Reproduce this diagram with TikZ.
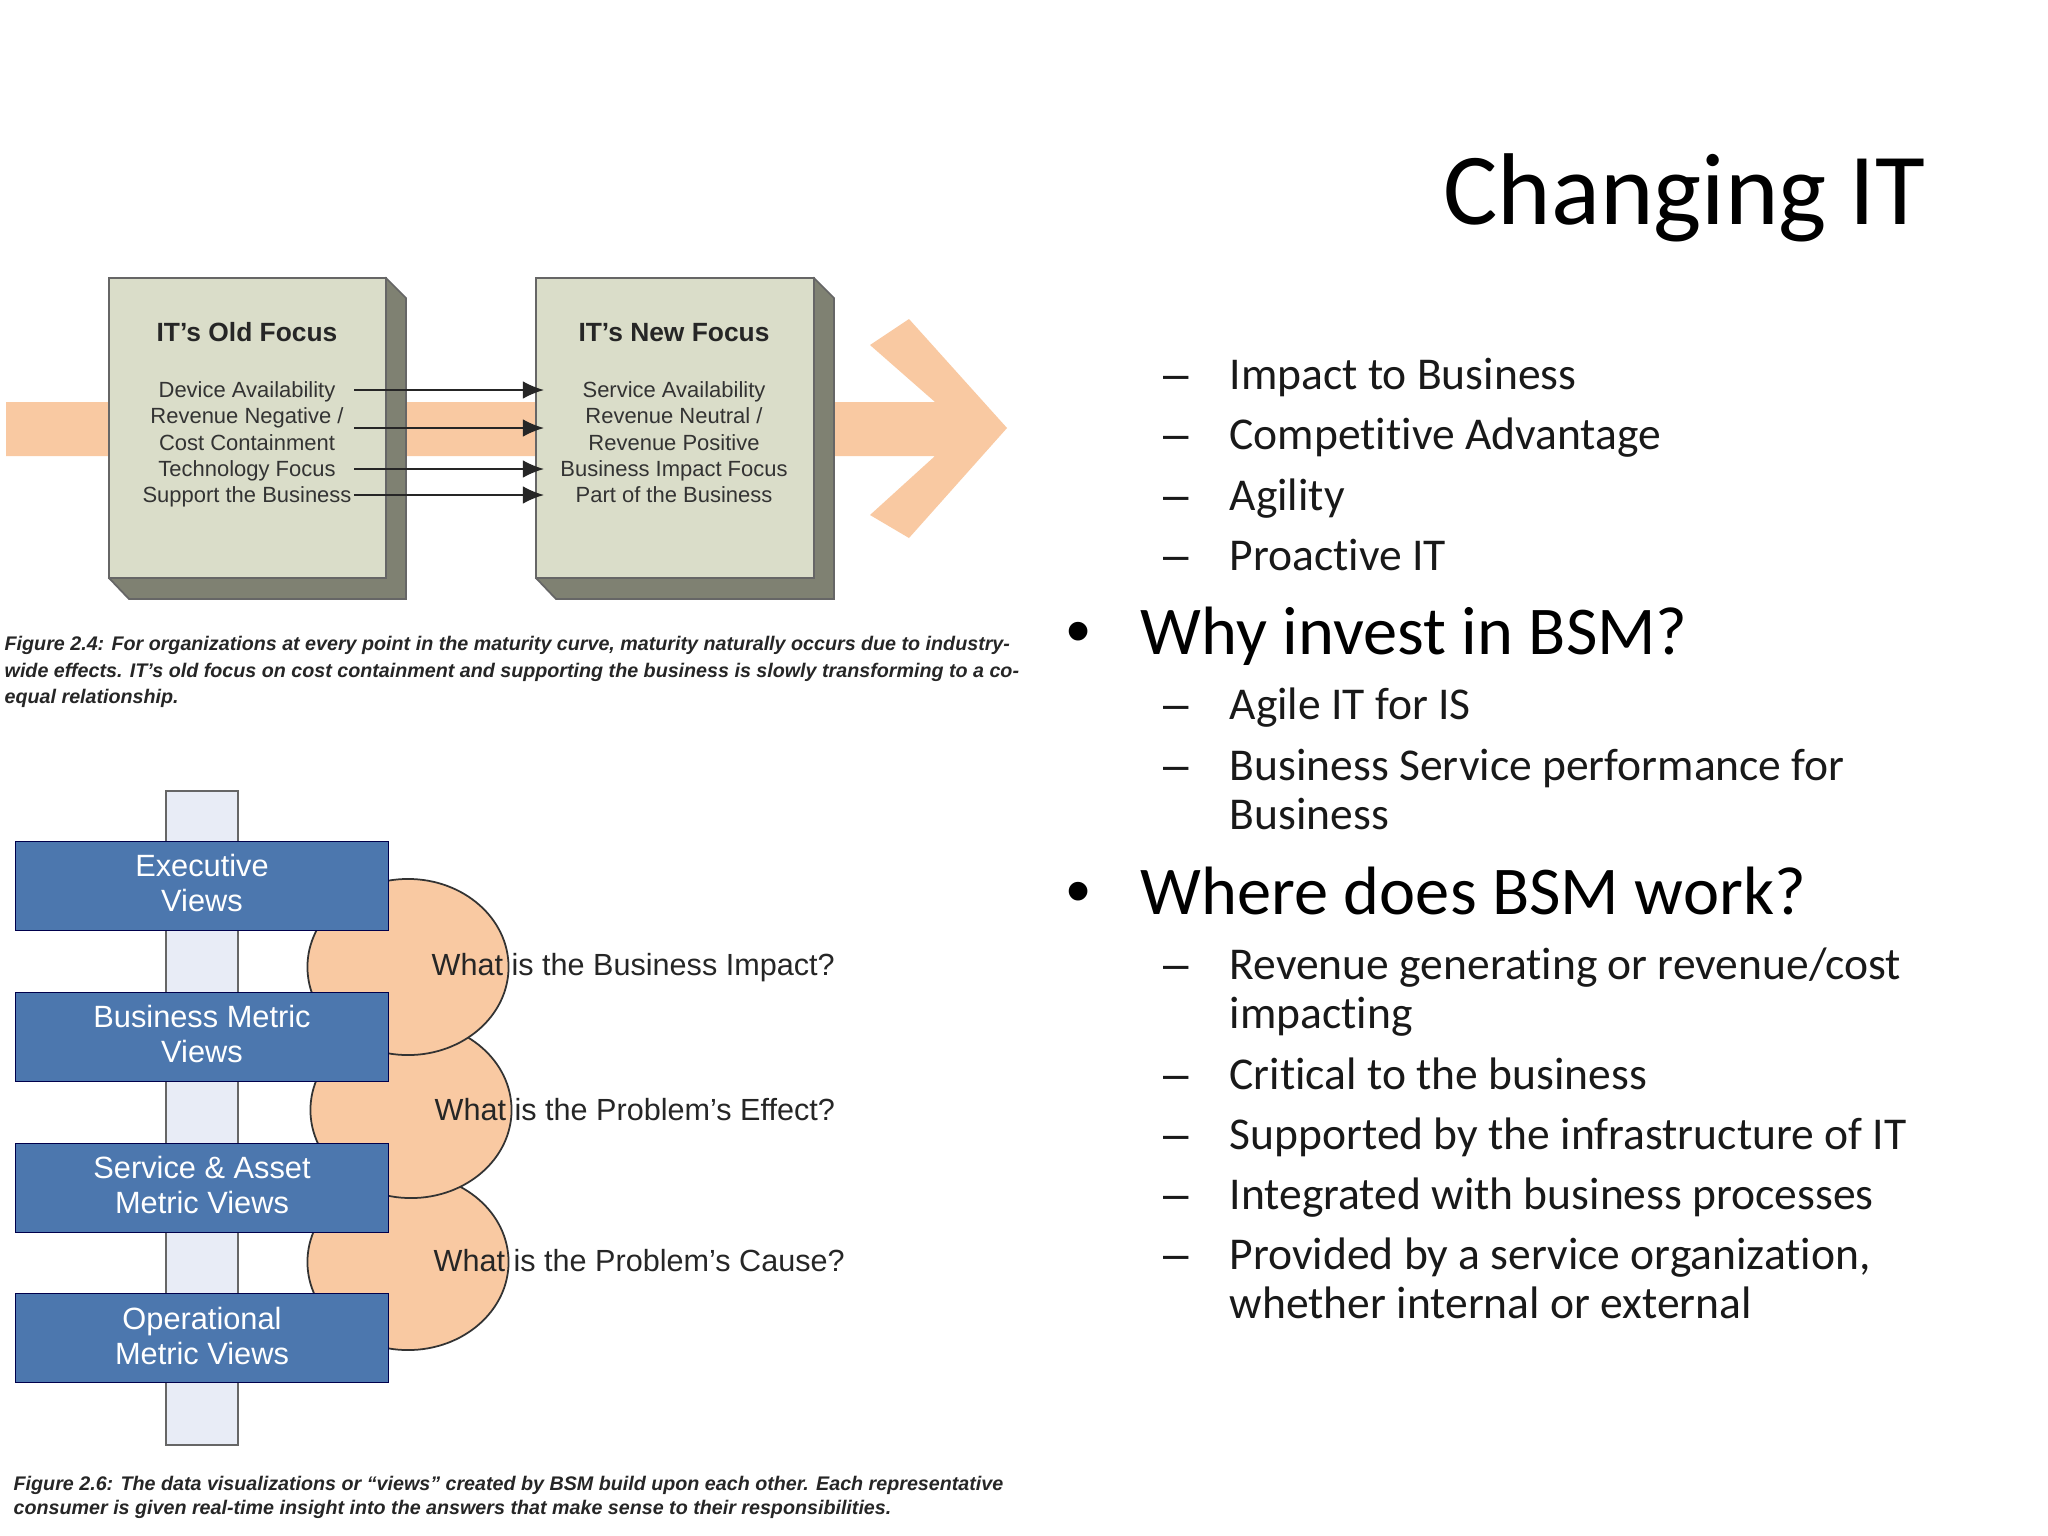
\documentclass[tikz,border=0pt]{standalone}
\usepackage{fontspec}
\setmainfont[Ligatures=CommonOff]{Carlito}
\newfontfamily\arialfont{Liberation Sans}
\usetikzlibrary{shapes.geometric,arrows.meta}
\definecolor{bandc}{HTML}{F9C9A2}
\definecolor{frontc}{HTML}{DADDC9}
\definecolor{sidec}{HTML}{7F8172}
\definecolor{viewc}{HTML}{4C77AE}
\definecolor{barc}{HTML}{E8ECF6}
\tikzset{
  focusbox/.style={draw=black!60,fill=frontc,line width=0.5pt},
  focusside/.style={draw=black!60,fill=sidec,line width=0.5pt},
  focustext/.style={font=\arialfont\fontsize{6.25}{7}\selectfont,text=black!80,inner sep=0pt,anchor=base},
  focushead/.style={font=\arialfont\bfseries\fontsize{7.5}{9}\selectfont,text=black!85,inner sep=0pt,anchor=base},
  figcap/.style={font=\arialfont\bfseries\itshape\fontsize{5.6}{7.5}\selectfont,text=black!85,inner sep=0pt,anchor=north west,align=left},
  viewbox/.style={draw=black!70!blue,fill=viewc,line width=0.5pt,minimum width=3.73cm,minimum height=0.89cm,inner sep=0pt},
  viewtext/.style={text=white,font=\arialfont\fontsize{8.75}{9.8}\selectfont,align=center,inner sep=0pt},
  askcirc/.style={ellipse,draw=black!80,fill=bandc,line width=0.5pt,minimum width=2.01cm,minimum height=1.76cm,inner sep=0pt},
  asktext/.style={font=\arialfont\fontsize{8.7}{10}\selectfont,text=black!85,inner sep=0pt,anchor=west},
  subitem/.style={font=\fontsize{12.95}{15}\selectfont,text=black!90,inner sep=0pt,anchor=base west},
  subdash/.style={font=\arialfont\fontsize{13}{15}\selectfont,text=black!90,inner sep=0pt,anchor=base west},
  topitem/.style={font=\fontsize{19.45}{22}\selectfont,text=black,inner sep=0pt,anchor=base west},
  topdot/.style={font=\arialfont\fontsize{19.6}{22}\selectfont,text=black,inner sep=0pt,anchor=base west}
}
\begin{document}
\begin{tikzpicture}[x=0.01cm,y=-0.01cm]
\useasboundingbox[fill=white] (0,0) rectangle (2048,1536);
% upper figure
\fill[bandc] (6,402) -- (935,402) -- (870,345) -- (909,319) -- (1007,428) -- (909,538) -- (870,515) -- (935,456) -- (6,456) -- cycle;
\draw[focusside] (386,278) -- (406,298) -- (406,599) -- (129,599) -- (109,578) -- cycle;
\draw[focusside] (814,278) -- (834,298) -- (834,599) -- (556,599) -- (536,578) -- cycle;
\draw[focusbox] (109,278) rectangle (386,578);
\draw[focusbox] (536,278) rectangle (814,578);
\node[focushead] (OldHead) at (247,341) {IT’s Old Focus};
\node[focushead] (NewHead) at (674,341) {IT’s New Focus};
\node[focustext] (Old1) at (247,397) {Device Availability};
\node[focustext] (Old2) at (247,423) {Revenue Negative /};
\node[focustext] (Old3) at (247,450) {Cost Containment};
\node[focustext] (Old4) at (247,476) {Technology Focus};
\node[focustext] (Old5) at (247,502) {Support the Business};
\node[focustext] (New1) at (674,397) {Service Availability};
\node[focustext] (New2) at (674,423) {Revenue Neutral /};
\node[focustext] (New3) at (674,450) {Revenue Positive};
\node[focustext] (New4) at (674,476) {Business Impact Focus};
\node[focustext] (New5) at (674,502) {Part of the Business};
\foreach \i/\ypos in {1/390,2/428,3/469,4/495} {
  \coordinate (From\i) at (354,\ypos);
  \coordinate (To\i) at (544,\ypos);
  \draw[-{Latex[length=6pt,width=5pt]},line width=0.5pt,black!85] (From\i) -- (To\i);
}
\node[figcap] (CapTop) at (4,636) {Figure 2.4: For organizations at every point in the maturity curve, maturity naturally occurs due to industry-\\wide effects. IT’s old focus on cost containment and supporting the business is slowly transforming to a co-\\equal relationship.};
% lower figure
\draw[draw=black!60,fill=barc,line width=0.5pt] (166,791) rectangle (238,1445);
\node[askcirc] (Ask3) at (408,1262) {};
\node[askcirc] (Ask2) at (411,1110) {};
\node[askcirc] (Ask1) at (408,967) {};
\node[viewbox] (Exec) at (202,886) {};
\node[viewbox] (Bus) at (202,1037) {};
\node[viewbox] (Serv) at (202,1188) {};
\node[viewbox] (Oper) at (202,1338) {};
\node[viewtext] (ExecText) at (202,883) {Executive\\Views};
\node[viewtext] (BusText) at (202,1034) {Business Metric\\Views};
\node[viewtext] (ServText) at (202,1185) {Service \& Asset\\Metric Views};
\node[viewtext] (OperText) at (202,1336) {Operational\\Metric Views};
\node[asktext] (Q1) at (431,968) {What is the Business Impact?};
\node[asktext] (Q2) at (434,1110) {What is the Problem’s Effect?};
\node[asktext] (Q3) at (433,1261) {What is the Problem’s Cause?};
\node[figcap,font=\arialfont\bfseries\itshape\fontsize{5.6}{6.7}\selectfont] (CapLow) at (13,1476) {Figure 2.6: The data visualizations or “views” created by BSM build upon each other. Each representative\\consumer is given real-time insight into the answers that make sense to their responsibilities.};
% slide text
\node[font=\fontsize{29}{32}\selectfont,inner sep=0pt,anchor=base east] (Title) at (1926,224) {Changing IT};
\foreach \n/\ypos/\txt in {a/389/Impact to Business,b/449/Competitive Advantage,c/510/Agility,d/570/Proactive IT,e/719/Agile IT for IS,f/780/Business Service performance for,h/979/{Revenue generating or revenue/cost},j/1089/Critical to the business,k/1149/Supported by the infrastructure of IT,l/1209/Integrated with business processes,m/1269/{Provided by a service organization,}} {
  \node[subdash] (Dash\n) at (1163,\ypos) {–};
  \node[subitem] (Item\n) at (1229,\ypos) {\txt};
}
\node[subitem] (Itemg) at (1229,829) {Business};
\node[subitem] (Itemi) at (1229,1028) {impacting};
\node[subitem] (Itemn) at (1229,1318) {whether internal or external};
\node[topdot] (Bullet1) at (1066,654) {•};
\node[topitem] (Why) at (1140,654) {Why invest in BSM?};
\node[topdot] (Bullet2) at (1066,914) {•};
\node[topitem] (Where) at (1140,914) {Where does BSM work?};
\end{tikzpicture}
\end{document}
